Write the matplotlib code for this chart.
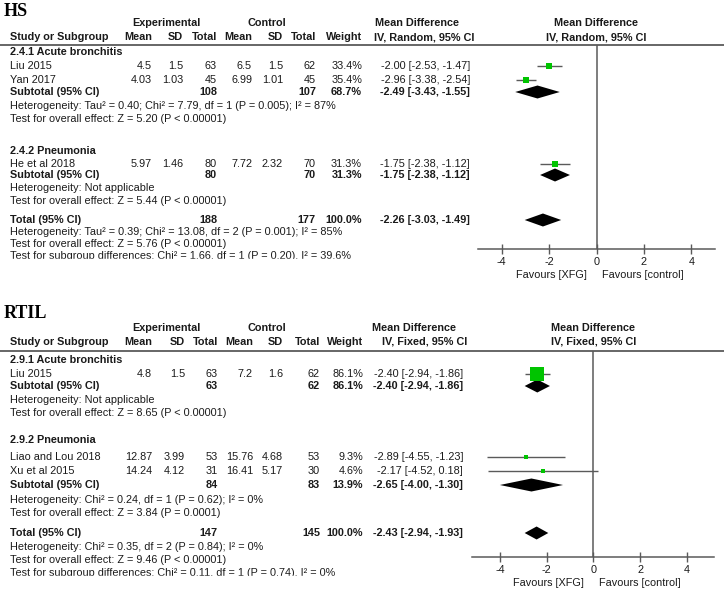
import matplotlib.pyplot as plt
from matplotlib.patches import Polygon, Rectangle

plt.rcParams['font.family'] = ['Liberation Sans', 'DejaVu Sans']
plt.rcParams['axes.unicode_minus'] = False

# ---- HS data ----
hs_groups = ["2.4.1 Acute bronchitis", "2.4.2 Pneumonia"]
hs_study = ["Liu 2015", "Yan 2017", "He et al 2018"]
hs_gidx = [0, 0, 1]
hs_e_mean = [4.5, 4.03, 5.97]
hs_e_sd = [1.5, 1.03, 1.46]
hs_e_n = [63, 45, 80]
hs_c_mean = [6.5, 6.99, 7.72]
hs_c_sd = [1.5, 1.01, 2.32]
hs_c_n = [62, 45, 70]
hs_weight = [33.4, 35.4, 31.3]
hs_md = [-2.00, -2.96, -1.75]
hs_lo = [-2.53, -3.38, -2.38]
hs_hi = [-1.47, -2.54, -1.12]
hs_sub_e_n = [108, 80]
hs_sub_c_n = [107, 70]
hs_sub_w = [68.7, 31.3]
hs_sub_md = [-2.49, -1.75]
hs_sub_lo = [-3.43, -2.38]
hs_sub_hi = [-1.55, -1.12]
hs_sub_het = ["Heterogeneity: Tau² = 0.40; Chi² = 7.79, df = 1 (P = 0.005); I² = 87%",
              "Heterogeneity: Not applicable"]
hs_sub_z = ["Test for overall effect: Z = 5.20 (P < 0.00001)",
            "Test for overall effect: Z = 5.44 (P < 0.00001)"]
hs_tot = [188, 177, -2.26, -3.03, -1.49]
hs_tot_notes = ["Heterogeneity: Tau² = 0.39; Chi² = 13.08, df = 2 (P = 0.001); I² = 85%",
                "Test for overall effect: Z = 5.76 (P < 0.00001)",
                "Test for subgroup differences: Chi² = 1.66, df = 1 (P = 0.20), I² = 39.6%"]

# ---- RTIL data ----
rt_groups = ["2.9.1 Acute bronchitis", "2.9.2 Pneumonia"]
rt_study = ["Liu 2015", "Liao and Lou 2018", "Xu et al 2015"]
rt_gidx = [0, 1, 1]
rt_e_mean = [4.8, 12.87, 14.24]
rt_e_sd = [1.5, 3.99, 4.12]
rt_e_n = [63, 53, 31]
rt_c_mean = [7.2, 15.76, 16.41]
rt_c_sd = [1.6, 4.68, 5.17]
rt_c_n = [62, 53, 30]
rt_weight = [86.1, 9.3, 4.6]
rt_md = [-2.40, -2.89, -2.17]
rt_lo = [-2.94, -4.55, -4.52]
rt_hi = [-1.86, -1.23, 0.18]
rt_sub_e_n = [63, 84]
rt_sub_c_n = [62, 83]
rt_sub_w = [86.1, 13.9]
rt_sub_md = [-2.40, -2.65]
rt_sub_lo = [-2.94, -4.00]
rt_sub_hi = [-1.86, -1.30]
rt_sub_het = ["Heterogeneity: Not applicable",
              "Heterogeneity: Chi² = 0.24, df = 1 (P = 0.62); I² = 0%"]
rt_sub_z = ["Test for overall effect: Z = 8.65 (P < 0.00001)",
            "Test for overall effect: Z = 3.84 (P = 0.0001)"]
rt_tot = [147, 145, -2.43, -2.94, -1.93]
rt_tot_notes = ["Heterogeneity: Chi² = 0.35, df = 2 (P = 0.84); I² = 0%",
                "Test for overall effect: Z = 9.46 (P < 0.00001)",
                "Test for subgroup differences: Chi² = 0.11, df = 1 (P = 0.74), I² = 0%"]

ticks = [-4, -2, 0, 2, 4]
col_heads = ["Mean", "SD", "Total", "Mean", "SD", "Total", "Weight"]

W, H = 724, 594
TXT = '#1a1a1a'
LINE = '#5a5a5a'
GREEN = '#00c400'
FS = 7.8

fig = plt.figure(figsize=(W / 100, H / 100), dpi=100)
bg = fig.add_axes([0, 0, 1, 1])
bg.set_xlim(0, W)
bg.set_ylim(H, 0)
bg.axis('off')


def txt(x, y, s, ha='left', bold=False):
    bg.text(x, y, s, ha=ha, va='center', fontsize=FS, color=TXT,
            fontweight='bold' if bold else 'normal')


def ci(md, lo, hi):
    return "%.2f [%.2f, %.2f]" % (md, lo, hi)


def draw_panel(d, lay):
    cols = lay['cols']
    bg.text(4, lay['title_y'], d['title'], ha='left', va='center', fontsize=13,
            fontweight='bold', family='Liberation Serif', color='black')
    txt(166, lay['sup_y'], "Experimental", ha='center', bold=True)
    txt(267, lay['sup_y'], "Control", ha='center', bold=True)
    txt(10, lay['head_y'], "Study or Subgroup", bold=True)
    for x, s in zip(cols, col_heads):
        txt(x, lay['head_y'], s, ha='right', bold=True)
    txt(lay['md_x'], lay['sup_y'], "Mean Difference", bold=True)
    txt(lay['res_x'] + 4, lay['head_y'], d['method'], ha='right', bold=True)
    bg.plot([0, W], [lay['line_y']] * 2, color=LINE, lw=1.3)

    # forest axes, y in pixel rows
    fx0, fx1 = lay['fx']
    ax = fig.add_axes([fx0 / W, 1 - lay['axis_y'] / H, (fx1 - fx0) / W,
                       (lay['axis_y'] - lay['line_y']) / H])
    ax.set_xlim(*lay['xlim'])
    ax.set_ylim(lay['axis_y'], lay['line_y'])
    ax.patch.set_alpha(0)
    for s in ['top', 'right', 'left']:
        ax.spines[s].set_visible(False)
    ax.spines['bottom'].set_color(LINE)
    ax.spines['bottom'].set_linewidth(1.1)
    ax.set_yticks([])
    ax.set_xticks(ticks)
    ax.set_xticklabels([str(t) for t in ticks])
    ax.tick_params(axis='x', direction='inout', length=7, color=LINE, width=1,
                   labelsize=FS, labelcolor=TXT, pad=2.5)
    ax.axvline(0, color=LINE, lw=1.1)
    x0, x1 = lay['xlim']
    zero_px = fx0 + (0 - x0) / (x1 - x0) * (fx1 - fx0)
    txt(zero_px, lay['sup_y'], "Mean Difference", ha='center', bold=True)
    txt(zero_px, lay['head_y'], d['method'], ha='center', bold=True)
    txt(zero_px - 10, lay['axis_y'] + 26, "Favours [XFG]", ha='right')
    txt(zero_px + 6, lay['axis_y'] + 26, "Favours [control]", ha='left')

    def diamond(y, md, lo, hi):
        ax.add_patch(Polygon([(lo, y), (md, y - 6.5), (hi, y), (md, y + 6.5)],
                             closed=True, color='black', lw=0))

    rows = iter(lay['rows'])
    for g, gname in enumerate(d['groups']):
        txt(10, next(rows), gname, bold=True)
        for i, name in enumerate(d['study']):
            if d['gidx'][i] != g:
                continue
            y = next(rows)
            txt(10, y, name)
            vals = [d['e_mean'][i], d['e_sd'][i], d['e_n'][i],
                    d['c_mean'][i], d['c_sd'][i], d['c_n'][i]]
            for x, v in zip(cols, vals):
                txt(x, y, str(v), ha='right')
            txt(cols[6], y, "%.1f%%" % d['weight'][i], ha='right')
            txt(lay['res_x'], y, ci(d['md'][i], d['lo'][i], d['hi'][i]), ha='right')
            ax.hlines(y, d['lo'][i], d['hi'][i], color=LINE, lw=1)
            side = lay['sq'] * d['weight'][i] ** 0.5
            ax.plot(d['md'][i], y, marker='s', ms=side * 0.72, color=GREEN, mew=0)
        y = next(rows)
        txt(10, y, "Subtotal (95% CI)", bold=True)
        txt(cols[2], y, str(d['sub_e_n'][g]), ha='right', bold=True)
        txt(cols[5], y, str(d['sub_c_n'][g]), ha='right', bold=True)
        txt(cols[6], y, "%.1f%%" % d['sub_w'][g], ha='right', bold=True)
        txt(lay['res_x'], y, ci(d['sub_md'][g], d['sub_lo'][g], d['sub_hi'][g]),
            ha='right', bold=True)
        diamond(y, d['sub_md'][g], d['sub_lo'][g], d['sub_hi'][g])
        txt(10, next(rows), d['sub_het'][g])
        txt(10, next(rows), d['sub_z'][g])

    en, cn, md, lo, hi = d['tot']
    y = next(rows)
    txt(10, y, "Total (95% CI)", bold=True)
    txt(cols[2], y, str(en), ha='right', bold=True)
    txt(cols[5], y, str(cn), ha='right', bold=True)
    txt(cols[6], y, "100.0%", ha='right', bold=True)
    txt(lay['res_x'], y, ci(md, lo, hi), ha='right', bold=True)
    diamond(y, md, lo, hi)
    for note in d['tot_notes']:
        txt(10, next(rows), note)
    # the source image cuts the last note line
    bg.add_patch(Rectangle((0, lay['clip_y']), 476, 12, color='white', zorder=5))


hs = dict(title="HS", method="IV, Random, 95% CI", groups=hs_groups, study=hs_study,
          gidx=hs_gidx, e_mean=hs_e_mean, e_sd=hs_e_sd, e_n=hs_e_n, c_mean=hs_c_mean,
          c_sd=hs_c_sd, c_n=hs_c_n, weight=hs_weight, md=hs_md, lo=hs_lo, hi=hs_hi,
          sub_e_n=hs_sub_e_n, sub_c_n=hs_sub_c_n, sub_w=hs_sub_w, sub_md=hs_sub_md,
          sub_lo=hs_sub_lo, sub_hi=hs_sub_hi, sub_het=hs_sub_het, sub_z=hs_sub_z,
          tot=hs_tot, tot_notes=hs_tot_notes)
rt = dict(title="RTIL", method="IV, Fixed, 95% CI", groups=rt_groups, study=rt_study,
          gidx=rt_gidx, e_mean=rt_e_mean, e_sd=rt_e_sd, e_n=rt_e_n, c_mean=rt_c_mean,
          c_sd=rt_c_sd, c_n=rt_c_n, weight=rt_weight, md=rt_md, lo=rt_lo, hi=rt_hi,
          sub_e_n=rt_sub_e_n, sub_c_n=rt_sub_c_n, sub_w=rt_sub_w, sub_md=rt_sub_md,
          sub_lo=rt_sub_lo, sub_hi=rt_sub_hi, sub_het=rt_sub_het, sub_z=rt_sub_z,
          tot=rt_tot, tot_notes=rt_tot_notes)

hs_lay = dict(title_y=12, sup_y=23, head_y=37, line_y=45, axis_y=249,
              rows=[52, 66, 80, 92, 106, 119, 151, 164, 175, 188, 201, 220, 232, 244, 256],
              cols=[152, 183, 217, 252, 283, 316, 362], md_x=375, res_x=470,
              fx=(478, 715), xlim=(-5, 5), sq=1.1, clip_y=258.5)
rt_lay = dict(title_y=314, sup_y=328, head_y=342, line_y=351, axis_y=557,
              rows=[360, 374, 386, 400, 413, 440, 457, 471, 485, 500, 513, 533, 547, 560, 573],
              cols=[152, 185, 218, 253, 283, 320, 363], md_x=372, res_x=463,
              fx=(472, 714), xlim=(-5.19, 5.15), sq=1.6, clip_y=576)

draw_panel(hs, hs_lay)
draw_panel(rt, rt_lay)

fig.savefig('out.png', dpi=100)
